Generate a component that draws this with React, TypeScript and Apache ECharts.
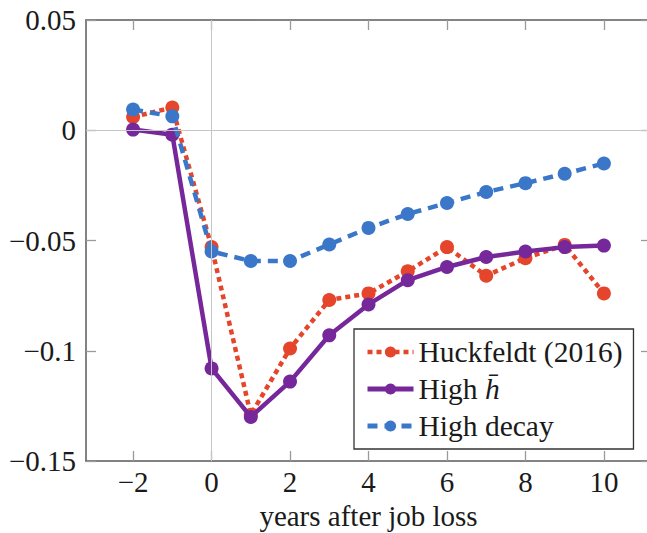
import React, { useEffect, useRef } from "react";
import * as echarts from "echarts";

const years = [-2, -1, 0, 1, 2, 3, 4, 5, 6, 7, 8, 9, 10];
const huckfeldt = [0.006, 0.0103, -0.053, -0.129, -0.099, -0.077, -0.074, -0.064, -0.053, -0.066, -0.058, -0.052, -0.074];
const highH = [0.0003, -0.002, -0.108, -0.13, -0.114, -0.093, -0.079, -0.068, -0.062, -0.0575, -0.055, -0.053, -0.0523];
const highDecay = [0.0094, 0.0063, -0.055, -0.0593, -0.0593, -0.0518, -0.0443, -0.038, -0.033, -0.028, -0.024, -0.0197, -0.0151];
const xTicks = [-2, 0, 2, 4, 6, 8, 10];
const yTicks = [-0.15, -0.1, -0.05, 0, 0.05];
const names = ["Huckfeldt (2016)", "High h\u0304", "High decay"];
const xLabel = "years after job loss";

const FONT = "Liberation Serif";

function fmt(v: number): string {
  const r = Math.round(v * 1000) / 1000;
  if (r === 0) return "0";
  return r < 0 ? "\u2212" + String(-r) : String(r);
}

export default function App() {
  const ref = useRef<HTMLDivElement>(null);
  useEffect(() => {
    if (!ref.current) return;
    const chart = echarts.init(ref.current, undefined, { renderer: "svg" });
    const axisLine = { show: true, onZero: false, lineStyle: { color: "#5a5a5a", width: 1.5 } };
    const tick = (vals: number[]) => ({
      show: true,
      inside: true,
      length: 10,
      customValues: vals,
      lineStyle: { color: "#9a9a9a", width: 1.3 },
    });
    const pairs = (arr: number[]) => years.map((x, i) => [x, arr[i]]);
    const red = "#e5462b";
    const purple = "#76289b";
    const blue = "#3b77c9";
    chart.setOption({
      animation: false,
      backgroundColor: "#fff",
      textStyle: { fontFamily: FONT },
      grid: { left: 86, top: 20, right: -4, bottom: 72, containLabel: false, outerBoundsMode: "none" },
      xAxis: [
        {
          type: "value",
          min: -3.2,
          max: 11.2,
          axisLine,
          axisTick: tick(xTicks),
          splitLine: { show: false },
          axisLabel: {
            customValues: xTicks,
            formatter: fmt,
            fontFamily: FONT,
            fontSize: 29,
            color: "#1a1a1a",
            margin: 6,
          },
          name: xLabel,
          nameLocation: "middle",
          nameGap: 40,
          nameTextStyle: { fontFamily: FONT, fontSize: 29, color: "#1a1a1a" },
        },
        {
          type: "value",
          position: "top",
          min: -3.2,
          max: 11.2,
          axisLine,
          axisTick: tick(xTicks),
          splitLine: { show: false },
          axisLabel: { show: false },
        },
      ],
      yAxis: [
        {
          type: "value",
          min: -0.15,
          max: 0.05,
          axisLine,
          axisTick: tick(yTicks),
          splitLine: { show: false },
          axisLabel: {
            customValues: yTicks,
            formatter: fmt,
            fontFamily: FONT,
            fontSize: 29,
            color: "#1a1a1a",
            margin: 10,
          },
        },
        {
          type: "value",
          position: "right",
          min: -0.15,
          max: 0.05,
          axisLine,
          axisTick: tick(yTicks),
          splitLine: { show: false },
          axisLabel: { show: false },
        },
      ],
      legend: {
        orient: "vertical",
        left: 354,
        top: 329,
        padding: [8, 11, 8, 11],
        itemGap: 7,
        itemWidth: 46,
        itemHeight: 14,
        borderColor: "#333",
        borderWidth: 1.3,
        borderRadius: 0,
        backgroundColor: "#fff",
        data: [
          { name: names[0], lineStyle: { width: 4.5 } },
          { name: names[1], lineStyle: { width: 5 } },
          { name: names[2], lineStyle: { width: 5 } },
        ],
        textStyle: {
          fontFamily: FONT,
          fontSize: 29.5,
          color: "#1a1a1a",
          rich: { i: { fontFamily: FONT, fontSize: 29.5, fontStyle: "italic", color: "#1a1a1a" } },
        },
        formatter: (n: string) => (n === names[1] ? "High {i|h\u0304}" : n),
      },
      series: [
        {
          name: names[0],
          type: "line",
          data: pairs(huckfeldt),
          symbol: "circle",
          symbolSize: 14,
          color: red,
          lineStyle: { color: red, width: 4.5, type: [5, 4] },
          itemStyle: { color: red },
          markLine: {
            silent: true,
            symbol: "none",
            label: { show: false },
            lineStyle: { color: "#c6c6c6", width: 1, type: "solid" },
            data: [{ xAxis: 0 }, { yAxis: 0 }],
          },
          z: 2,
        },
        {
          name: names[1],
          type: "line",
          data: pairs(highH),
          symbol: "circle",
          symbolSize: 14,
          color: purple,
          lineStyle: { color: purple, width: 4.5, type: "solid" },
          itemStyle: { color: purple },
          z: 3,
        },
        {
          name: names[2],
          type: "line",
          data: pairs(highDecay),
          symbol: "circle",
          symbolSize: 14,
          color: blue,
          lineStyle: { color: blue, width: 4.5, type: [10, 7] },
          itemStyle: { color: blue },
          z: 4,
        },
      ],
    });
    return () => chart.dispose();
  }, []);
  return (
    <div
      ref={ref}
      style={{ position: "fixed", left: 0, top: 0, width: 647, height: 533, background: "#fff" }}
    />
  );
}
